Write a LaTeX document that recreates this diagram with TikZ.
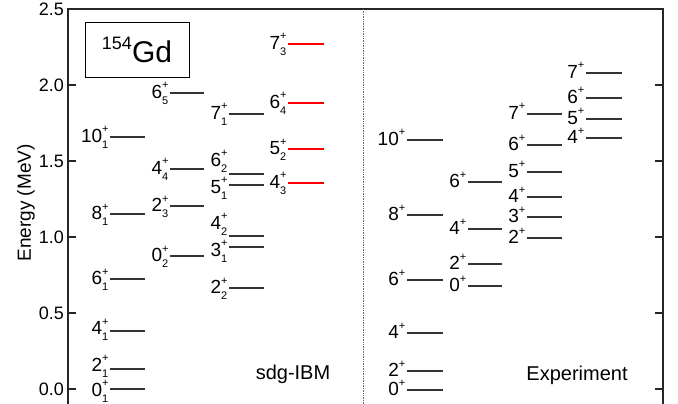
\documentclass[tikz,border=0pt]{standalone}
\usepackage{fontspec}
\setmainfont{Liberation Sans}
\newcommand{\sps}{\fontsize{11}{11}\selectfont}
\newcommand{\lv}[2]{#1\makebox[0pt][l]{\raisebox{9.5pt}{\sps+}}\raisebox{-6pt}{\sps#2}}
\newcommand{\lx}[1]{#1\raisebox{9.5pt}{\sps+}}
\newcommand{\Lev}[7]{%
  \coordinate (#1a) at (#2,#4);
  \coordinate (#1b) at (#3,#4);
  \draw[#6] (#1a) -- (#1b);
  \node[lbl] (#1) at ([xshift=-1.5pt,yshift=-5.5pt-#7pt]#1a) {#5};
}
\tikzset{
  lvl/.style={line width=1.1pt, draw=black!80},
  redlvl/.style={line width=1.4pt, draw=red},
  lbl/.style={inner sep=0pt, font=\fontsize{19}{19}\selectfont, anchor=base east},
  ticklbl/.style={inner sep=0pt, font=\fontsize{18}{18}\selectfont, anchor=east},
  frameline/.style={line width=1.1pt, draw=black!85},
  axtick/.style={line width=1.1pt, draw=black!85},
  bigtxt/.style={inner sep=0pt, font=\fontsize{20}{20}\selectfont},
}
\begin{document}
\begin{tikzpicture}[x=1pt,y=-1pt]
\useasboundingbox (0,0) rectangle (678,404);
% frame
\draw[frameline] (68,404) -- (68,9) -- (663,9) -- (663,404);
\draw[black!60, line width=0.6pt, dash pattern=on 0.8pt off 0.9pt] (363,9) -- (363,404);
\foreach \y/\t in {85/2.0, 161/1.5, 237/1.0, 313/0.5, 389/0.0}{
  \draw[axtick] (68,\y) -- (76,\y);
  \draw[axtick] (655,\y) -- (663,\y);
}
\foreach \y/\t/\n in {9/2.5/a, 85/2.0/b, 161/1.5/c, 237/1.0/d, 313/0.5/e, 389/0.0/f}{
  \node[ticklbl] (tl\n) at (64,\y) {\t};
}
\node[rotate=90, inner sep=0pt, font=\fontsize{19}{19}\selectfont] (ylab) at (26,203) {Energy (MeV)};
% nucleus box
\node[draw, line width=0.9pt, minimum width=104pt, minimum height=55pt, inner sep=0pt] (gd) at (137,49.5)
  {{\fontsize{18}{18}\selectfont\raisebox{13pt}{154}}{\fontsize{30}{30}\selectfont Gd}};
% sdg-IBM column 1
\Lev{a0}{110}{145}{389}{\lv{0}{1}}{lvl}{1.5}
\Lev{a2}{110}{145}{369}{\lv{2}{1}}{lvl}{-3.5}
\Lev{a4}{110}{145}{331}{\lv{4}{1}}{lvl}{-2}
\Lev{a6}{110}{145}{279}{\lv{6}{1}}{lvl}{0}
\Lev{a8}{110}{145}{214}{\lv{8}{1}}{lvl}{0}
\Lev{a10}{110}{145}{137}{\lv{10}{1}}{lvl}{0}
% column 2
\Lev{b0}{170}{204}{256}{\lv{0}{2}}{lvl}{0}
\Lev{b2}{170}{204}{206}{\lv{2}{3}}{lvl}{0}
\Lev{b4}{170}{204}{169}{\lv{4}{4}}{lvl}{0}
\Lev{b6}{170}{204}{93}{\lv{6}{5}}{lvl}{0}
% column 3
\Lev{c2}{229}{264}{288}{\lv{2}{2}}{lvl}{0}
\Lev{c3}{229}{264}{247}{\lv{3}{1}}{lvl}{3.5}
\Lev{c4}{229}{264}{236}{\lv{4}{2}}{lvl}{-12.5}
\Lev{c5}{229}{264}{185}{\lv{5}{1}}{lvl}{2.5}
\Lev{c6}{229}{264}{174}{\lv{6}{2}}{lvl}{-13.5}
\Lev{c7}{229}{264}{114}{\lv{7}{1}}{lvl}{0}
% column 4 (red)
\Lev{d4}{288}{324}{183}{\lv{4}{3}}{redlvl}{0}
\Lev{d5}{288}{324}{149}{\lv{5}{2}}{redlvl}{0}
\Lev{d6}{288}{324}{103}{\lv{6}{4}}{redlvl}{0}
\Lev{d7}{288}{324}{44}{\lv{7}{3}}{redlvl}{0}
% experiment column 1
\Lev{e0}{407}{443}{390}{\lx{0}}{lvl}{0}
\Lev{e2}{407}{443}{371}{\lx{2}}{lvl}{0}
\Lev{e4}{407}{443}{333}{\lx{4}}{lvl}{0}
\Lev{e6}{407}{443}{280}{\lx{6}}{lvl}{0}
\Lev{e8}{407}{443}{215}{\lx{8}}{lvl}{0}
\Lev{e10}{407}{443}{140}{\lx{10}}{lvl}{0}
% experiment column 2
\Lev{f0}{468}{502}{286}{\lx{0}}{lvl}{0}
\Lev{f2}{468}{502}{264}{\lx{2}}{lvl}{0}
\Lev{f4}{468}{502}{229}{\lx{4}}{lvl}{0}
\Lev{f6}{468}{502}{182}{\lx{6}}{lvl}{0}
% experiment column 3
\Lev{g2}{527}{562}{238}{\lx{2}}{lvl}{0}
\Lev{g3}{527}{562}{217}{\lx{3}}{lvl}{0}
\Lev{g4}{527}{562}{197}{\lx{4}}{lvl}{0}
\Lev{g5}{527}{562}{172}{\lx{5}}{lvl}{0}
\Lev{g6}{527}{562}{145}{\lx{6}}{lvl}{0}
\Lev{g7}{527}{562}{114}{\lx{7}}{lvl}{0}
% experiment column 4
\Lev{h4}{586}{622}{138}{\lx{4}}{lvl}{0}
\Lev{h5}{586}{622}{119}{\lx{5}}{lvl}{0}
\Lev{h6}{586}{622}{98}{\lx{6}}{lvl}{0}
\Lev{h7}{586}{622}{73}{\lx{7}}{lvl}{0}
% titles
\node[bigtxt] (sdg) at (293,374) {sdg-IBM};
\node[bigtxt] (exp) at (577,375) {Experiment};
\end{tikzpicture}
\end{document}
